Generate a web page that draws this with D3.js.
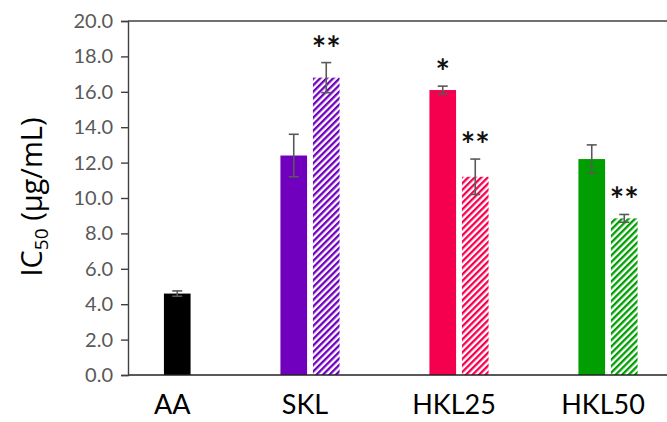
<!DOCTYPE html>
<html>
<head>
<meta charset="utf-8">
<script src="https://cdn.jsdelivr.net/npm/d3@7"></script>
<style>
  body { margin: 0; background: #fff; }
  svg { display: block; }
</style>
</head>
<body>
<div id="chart"></div>
<script>
// groups on the x axis
const categories = ["AA", "SKL", "HKL25", "HKL50"];
// first slot of each group (solid bars), AA has none
const firstValues = [null, 12.4, 16.1, 12.2];
const firstErrors = [null, 1.2, 0.22, 0.8];
const firstStars = ["", "", "*", ""];
// second slot of each group (hatched bars, AA is solid)
const secondValues = [4.6, 16.8, 11.2, 8.85];
const secondErrors = [0.15, 0.85, 1.0, 0.22];
const secondStars = ["", "**", "**", "**"];
const secondHatched = [false, true, true, true];
const groupColors = ["#000000", "#7000BD", "#F5004F", "#009E00"];
const yTicks = [0, 2, 4, 6, 8, 10, 12, 14, 16, 18, 20];

const W = 667, H = 422;
const margin = { top: 21, right: 0, bottom: 47, left: 128 };
const font = "Lato, 'Open Sans', sans-serif";

const svg = d3.select("#chart").append("svg")
    .attr("width", W)
    .attr("height", H);

const defs = svg.append("defs");
groupColors.forEach((c, i) => {
    const p = defs.append("pattern")
        .attr("id", "hatch-" + i)
        .attr("patternUnits", "userSpaceOnUse")
        .attr("width", 4.6)
        .attr("height", 4.6)
        .attr("patternTransform", "rotate(45)");
    p.append("rect").attr("width", 4.6).attr("height", 4.6).attr("fill", "#fff");
    p.append("rect").attr("width", 2.3).attr("height", 4.6).attr("fill", c);
});

const y = d3.scaleLinear()
    .domain([0, 20])
    .range([H - margin.bottom, margin.top]);

const x = d3.scaleBand()
    .domain(categories)
    .range([86.5, 86.5 + 149 * categories.length]);

const bw = x.bandwidth();
const xSub = d3.scaleBand()
    .domain(["first", "second"])
    .range([bw / 2 - 32.5, bw / 2 + 32.5])
    .paddingInner(0.18)
    .paddingOuter(0.09);

// build the bar list from the arrays
const bars = [];
categories.forEach((cat, i) => {
    if (firstValues[i] != null) {
        bars.push({ cat, slot: "first", value: firstValues[i], err: firstErrors[i], star: firstStars[i], color: groupColors[i], fill: groupColors[i] });
    }
    if (secondValues[i] != null) {
        bars.push({ cat, slot: "second", value: secondValues[i], err: secondErrors[i], star: secondStars[i], color: groupColors[i],
            fill: secondHatched[i] ? "url(#hatch-" + i + ")" : groupColors[i] });
    }
});

const barX = d => x(d.cat) + xSub(d.slot);
const barMid = d => barX(d) + xSub.bandwidth() / 2;

svg.append("g").selectAll("rect")
    .data(bars)
    .enter().append("rect")
    .attr("x", barX)
    .attr("y", d => y(d.value))
    .attr("width", xSub.bandwidth())
    .attr("height", d => y(0) - y(d.value))
    .attr("fill", d => d.fill);

// error bars
const eb = svg.append("g")
    .attr("stroke", "#595959")
    .attr("stroke-width", 1.6)
    .selectAll("g")
    .data(bars)
    .enter().append("g");
eb.append("line")
    .attr("x1", barMid).attr("x2", barMid)
    .attr("y1", d => y(d.value + d.err))
    .attr("y2", d => y(d.value - d.err));
eb.append("line")
    .attr("x1", d => barMid(d) - 5).attr("x2", d => barMid(d) + 5)
    .attr("y1", d => y(d.value + d.err)).attr("y2", d => y(d.value + d.err));
eb.append("line")
    .attr("x1", d => barMid(d) - 5).attr("x2", d => barMid(d) + 5)
    .attr("y1", d => y(d.value - d.err)).attr("y2", d => y(d.value - d.err));

// significance stars
svg.append("g").selectAll("text")
    .data(bars.filter(d => d.star))
    .enter().append("text")
    .attr("x", barMid)
    .attr("y", d => y(d.value + d.err) - 2)
    .attr("text-anchor", "middle")
    .attr("font-family", font)
    .attr("font-size", 34)
    .attr("font-weight", "bold")
    .attr("fill", "#111")
    .text(d => d.star);

// axes
const axisColor = "#404040";
svg.append("line")
    .attr("x1", margin.left).attr("x2", W)
    .attr("y1", y(20)).attr("y2", y(20))
    .attr("stroke", axisColor).attr("stroke-width", 1.4);
svg.append("line")
    .attr("x1", margin.left).attr("x2", W)
    .attr("y1", y(0)).attr("y2", y(0))
    .attr("stroke", "#222").attr("stroke-width", 1.4);

const yAxis = svg.append("g")
    .attr("transform", `translate(${margin.left},0)`)
    .call(d3.axisLeft(y).tickValues(yTicks).tickFormat(d3.format(".1f")).tickSizeOuter(0).tickSize(7).tickPadding(8));
yAxis.select(".domain").attr("stroke", axisColor).attr("stroke-width", 1.4);
yAxis.selectAll(".tick line").attr("stroke", axisColor).attr("stroke-width", 1.4);
yAxis.selectAll(".tick text")
    .attr("font-family", font)
    .attr("font-size", 20)
    .attr("fill", "#595959");

// category labels
svg.append("g").selectAll("text")
    .data(categories)
    .enter().append("text")
    .attr("x", (d, i) => (firstValues[i] == null ? x(d) + xSub("second") + xSub.bandwidth() / 2 : x(d) + bw / 2) - 5)
    .attr("y", 414)
    .attr("text-anchor", "middle")
    .attr("font-family", font)
    .attr("font-size", 27)
    .attr("fill", "#000")
    .text(d => d);

// y title
const title = svg.append("text")
    .attr("transform", "translate(42,197) rotate(-90)")
    .attr("text-anchor", "middle")
    .attr("font-family", "'Open Sans', Lato, sans-serif")
    .attr("font-size", 29)
    .attr("fill", "#000");
title.append("tspan").text("IC");
title.append("tspan").attr("font-size", 19).attr("dy", 6).text("50");
title.append("tspan").attr("dy", -6).text(" (µg/mL)");
</script>
</body>
</html>
